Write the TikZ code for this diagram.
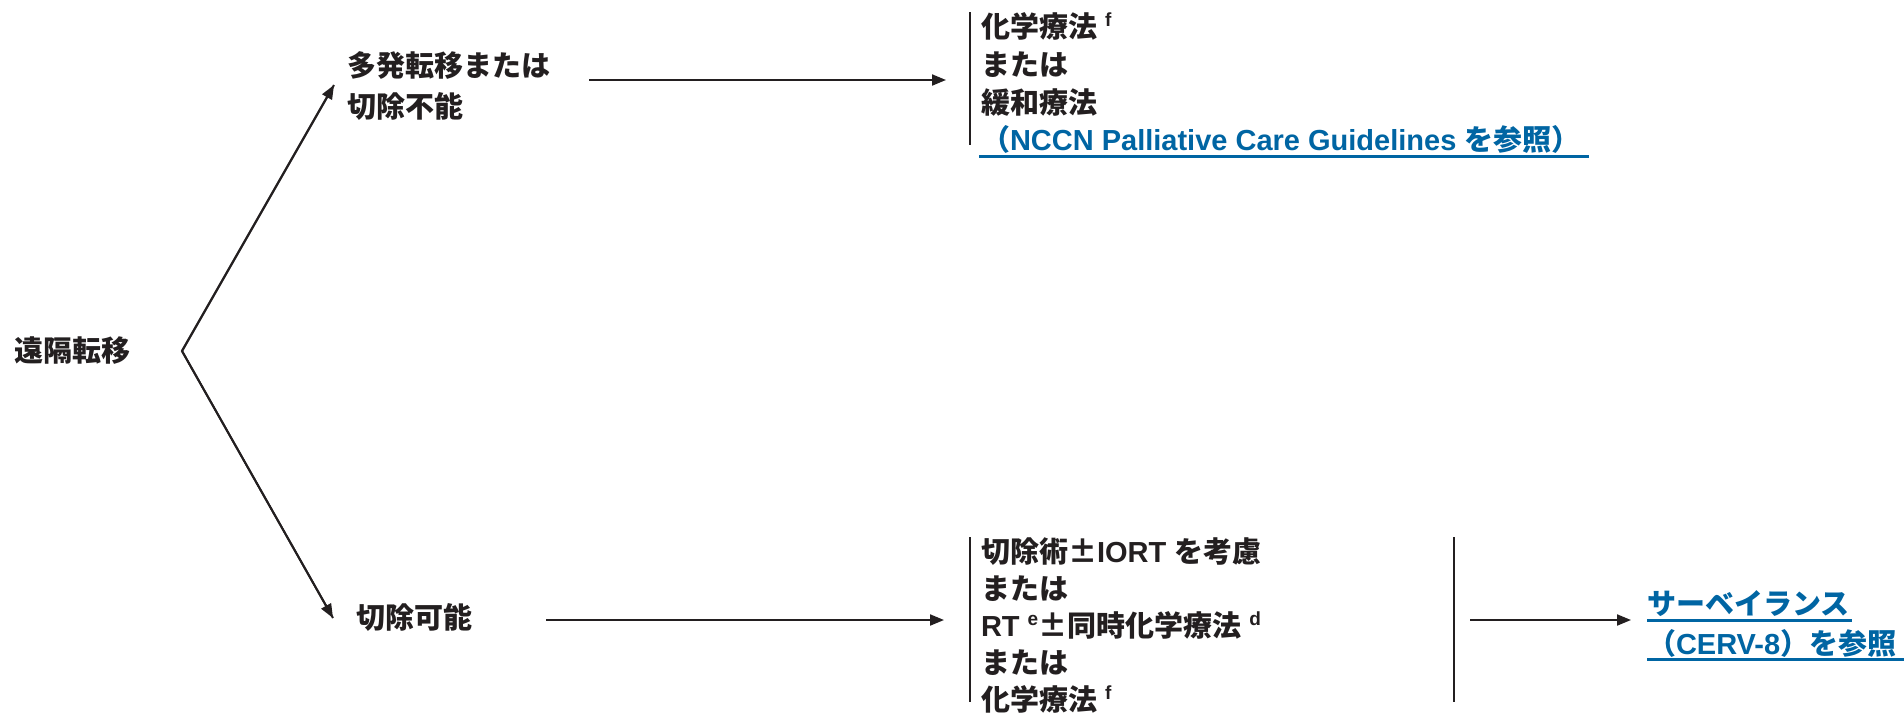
\documentclass[tikz,border=0pt]{standalone}
\usepackage{fontspec}
\setmainfont{Liberation Sans}
\newfontfamily\jpfont{Noto Sans CJK JP}
\usetikzlibrary{arrows.meta}
\definecolor{ink}{RGB}{35,31,32}
\definecolor{link}{RGB}{0,101,163}
\newcommand\jp[1]{{\jpfont\bfseries #1}}
\newcommand\sups[1]{\raisebox{11pt}{\fontsize{19}{19}\selectfont\bfseries #1}}
\begin{document}
\begin{tikzpicture}[x=1pt,y=-1pt,
  txt/.style={inner sep=0pt,outer sep=0pt,anchor=base west,text=ink,font=\fontsize{29}{34}\selectfont\bfseries},
  lnk/.style={txt,text=link},
  conn/.style={draw=ink,line width=2pt,-{Triangle[length=14pt,width=11pt]}},
  plain/.style={draw=ink,line width=2pt},
  bar/.style={draw=ink,line width=2.2pt},
  ul/.style={draw=link,line width=3pt}]
\useasboundingbox (0,0) rectangle (1904,716);

% left and middle column
\node[txt] (root) at (14,361) {\jp{遠隔転移}};
\node[txt] (unres1) at (347,76) {\jp{多発転移または}};
\node[txt] (unres2) at (347,117) {\jp{切除不能}};
\node[txt] (res) at (356,628) {\jp{切除可能}};

% top result block
\node[txt] (u1) at (981,37) {\jp{化学療法} \sups{f}};
\node[txt] (u2) at (981,75) {\jp{または}};
\node[txt] (u3) at (981,113) {\jp{緩和療法}};
\node[lnk] (u4) at (981,150) {\jp{（}NCCN Palliative Care Guidelines \jp{を参照）}};

% bottom result block
\node[txt] (r1) at (981,562) {\jp{切除術±}IORT \jp{を考慮}};
\node[txt] (r2) at (981,599) {\jp{または}};
\node[txt] (r3) at (981,636) {RT \sups{e}\jp{±同時化学療法} \sups{d}};
\node[txt] (r4) at (981,673) {\jp{または}};
\node[txt] (r5) at (981,710) {\jp{化学療法} \sups{f}};

% surveillance
\node[lnk] (s1) at (1647,614) {\jp{サーベイランス}};
\node[lnk] (s2) at (1647,654) {\jp{（}CERV-8\jp{）を参照}};

% connector end points
\coordinate (fork) at (182,351);
\coordinate (upTip) at (334,85);
\coordinate (dnTip) at (333,618);
\coordinate (uStart) at (589,80);
\coordinate (uEnd) at (946,80);
\coordinate (rStart) at (546,620);
\coordinate (rEnd) at (944,620);
\coordinate (sStart) at (1470,620);
\coordinate (sEnd) at (1631,620);

% connectors
\draw[plain] (upTip) -- (fork) -- (dnTip);
\draw[conn] (fork) -- (upTip);
\draw[conn] (fork) -- (dnTip);
\draw[conn] (uStart) -- (uEnd);
\draw[conn] (rStart) -- (rEnd);
\draw[conn] (sStart) -- (sEnd);

% brackets
\draw[bar] (970,12) -- (970,145);
\draw[bar] (970,537) -- (970,702);
\draw[bar] (1454,537) -- (1454,702);

% underlines
\draw[ul] ([xshift=-2pt,yshift=-6pt]u4.base west) -- ([xshift=8pt,yshift=-6pt]u4.base east);
\draw[ul] ([xshift=0pt,yshift=-6pt]s1.base west) -- ([xshift=3pt,yshift=-6pt]s1.base east);
\draw[ul] ([xshift=0pt,yshift=-5pt]s2.base west) -- (1904,659);
\end{tikzpicture}
\end{document}
